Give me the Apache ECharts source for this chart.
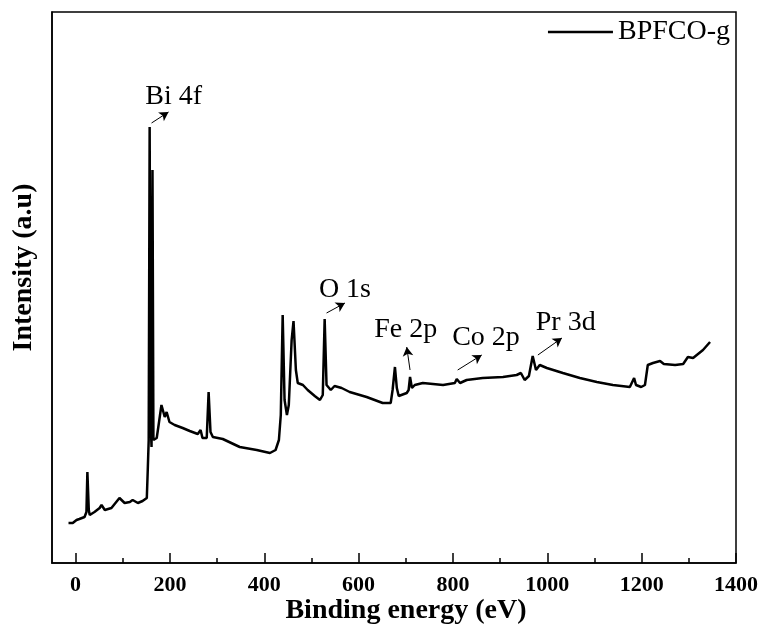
<!DOCTYPE html>
<html>
<head>
<meta charset="utf-8">
<script src="https://cdn.jsdelivr.net/npm/echarts@6/dist/echarts.min.js"></script>
<style>
  html, body { margin: 0; padding: 0; background: #fff; }
  #chart { width: 762px; height: 632px; }
</style>
</head>
<body>
<div id="chart"></div>
<script>
// binding energy (eV) and intensity (a.u.)
const energy = [
  -15, -6, 2, 8, 19, 23, 25, 28, 30, 40, 51, 55, 62, 76, 93, 104, 115, 121, 132, 142,
  151, 153, 155, 157, 159, 161, 163, 165, 172, 176, 182, 189, 193, 199, 210, 227, 242, 259, 265, 269,
  278, 282, 286, 291, 312, 348, 384, 412, 424, 431, 435, 439, 443, 448, 452, 458, 462, 467, 471, 482,
  492, 507, 518, 524, 528, 532, 541, 549, 564, 581, 617, 651, 668, 672, 677, 681, 685, 702, 706, 709,
  713, 719, 736, 779, 804, 808, 815, 829, 863, 906, 935, 944, 952, 961, 969, 976, 984, 999, 1033, 1069,
  1105, 1139, 1175, 1179, 1184, 1188, 1199, 1207, 1213, 1224, 1239, 1247, 1271, 1288, 1298, 1309, 1330, 1345
]
const intensity = [
  40, 40, 43, 44, 46, 51, 91, 53, 48, 51, 55, 58, 53, 55, 65, 60, 61, 63, 60, 62,
  65, 93, 123, 436, 143, 116, 393, 123, 125, 138, 158, 146, 151, 141, 138, 135, 132, 129, 133, 125,
  125, 171, 131, 126, 124, 116, 113, 110, 113, 123, 148, 248, 163, 148, 158, 223, 242, 193, 180, 178,
  173, 167, 163, 168, 244, 178, 173, 177, 175, 171, 166, 160, 160, 173, 196, 175, 167, 170, 173, 186,
  175, 178, 180, 178, 180, 184, 180, 183, 185, 186, 188, 190, 183, 187, 207, 193, 198, 195, 190, 185,
  181, 178, 176, 178, 185, 178, 176, 178, 198, 200, 202, 199, 198, 199, 206, 205, 213, 221
]
const majorTicks = [0, 200, 400, 600, 800, 1000, 1200, 1400]
const minorTicks = [100, 300, 500, 700, 900, 1100, 1300]

// peak labels: text, text position, arrow start, arrow end (data units)
const peakNames = ['Bi 4f', 'O 1s', 'Fe 2p', 'Co 2p', 'Pr 3d']
const peakTextAt = [[208, 466], [571, 273], [700, 233], [870, 225], [1039, 240]]
const arrowFrom = [[161, 440], [532, 250], [709, 193], [810, 193], [980, 208]]
const arrowTo = [[197, 451], [571, 260], [702, 216], [861, 208], [1031, 225]]

const serif = 'Liberation Serif, Times New Roman, serif'
const chart = echarts.init(document.getElementById('chart'))

const seriesData = energy.map((e, i) => [e, intensity[i]])

chart.setOption({
  animation: false,
  backgroundColor: '#fff',
  grid: {
    left: 52, right: 26, top: 12, bottom: 69,
    containLabel: false, outerBoundsMode: 'none',
    show: true, borderColor: '#000', borderWidth: 1.5
  },
  legend: {
    right: 27, top: 13,
    icon: 'rect',
    itemWidth: 65, itemHeight: 2.5, itemGap: 5,
    textStyle: { fontFamily: serif, fontSize: 28, color: '#000' },
    data: ['BPFCO-g']
  },
  xAxis: [{
    type: 'value', min: -50, max: 1400,
    axisLine: { show: true, onZero: false, lineStyle: { color: '#000', width: 1.5 } },
    axisTick: { show: true, inside: true, length: 10, customValues: majorTicks, lineStyle: { color: '#000', width: 1.5 } },
    axisLabel: {
      customValues: majorTicks, margin: 11, formatter: v => String(v),
      fontFamily: serif, fontWeight: 'bold', fontSize: 22, color: '#000'
    },
    splitLine: { show: false },
    name: 'Binding energy (eV)', nameLocation: 'middle', nameGap: 34, nameMoveOverlap: false,
    nameTextStyle: { fontFamily: serif, fontWeight: 'bold', fontSize: 28, color: '#000', padding: [0, 0, 0, 24] }
  }, {
    type: 'value', min: -50, max: 1400, position: 'bottom',
    axisLine: { show: false },
    axisTick: { show: true, inside: true, length: 5, customValues: minorTicks, lineStyle: { color: '#000', width: 1.5 } },
    axisLabel: { show: false },
    splitLine: { show: false }
  }],
  yAxis: {
    type: 'value', min: 0, max: 551,
    axisLine: { show: true, onZero: false, lineStyle: { color: '#000', width: 1.5 } },
    axisTick: { show: false },
    axisLabel: { show: false },
    splitLine: { show: false },
    name: 'Intensity (a.u)', nameLocation: 'middle', nameGap: 14, nameMoveOverlap: false,
    nameTextStyle: { fontFamily: serif, fontWeight: 'bold', fontSize: 28, color: '#000', padding: [0, 0, 0, 40] }
  },
  series: [{
    name: 'BPFCO-g',
    type: 'line',
    data: seriesData,
    symbol: 'none',
    lineStyle: { color: '#000', width: 2.5 },
    itemStyle: { color: '#000' },
    markLine: {
      silent: true,
      symbol: ['none', 'arrow'],
      symbolSize: [8, 9],
      label: { show: false },
      lineStyle: { color: '#000', width: 1, type: 'solid' },
      data: arrowFrom.map((p, i) => [{ coord: p }, { coord: arrowTo[i] }])
    },
    markPoint: {
      silent: true,
      symbol: 'circle',
      symbolSize: 0,
      label: {
        show: true, position: 'inside', formatter: '{b}',
        fontFamily: serif, fontSize: 28, color: '#000'
      },
      data: peakNames.map((n, i) => ({ name: n, coord: peakTextAt[i] }))
    }
  }]
})
</script>
</body>
</html>
